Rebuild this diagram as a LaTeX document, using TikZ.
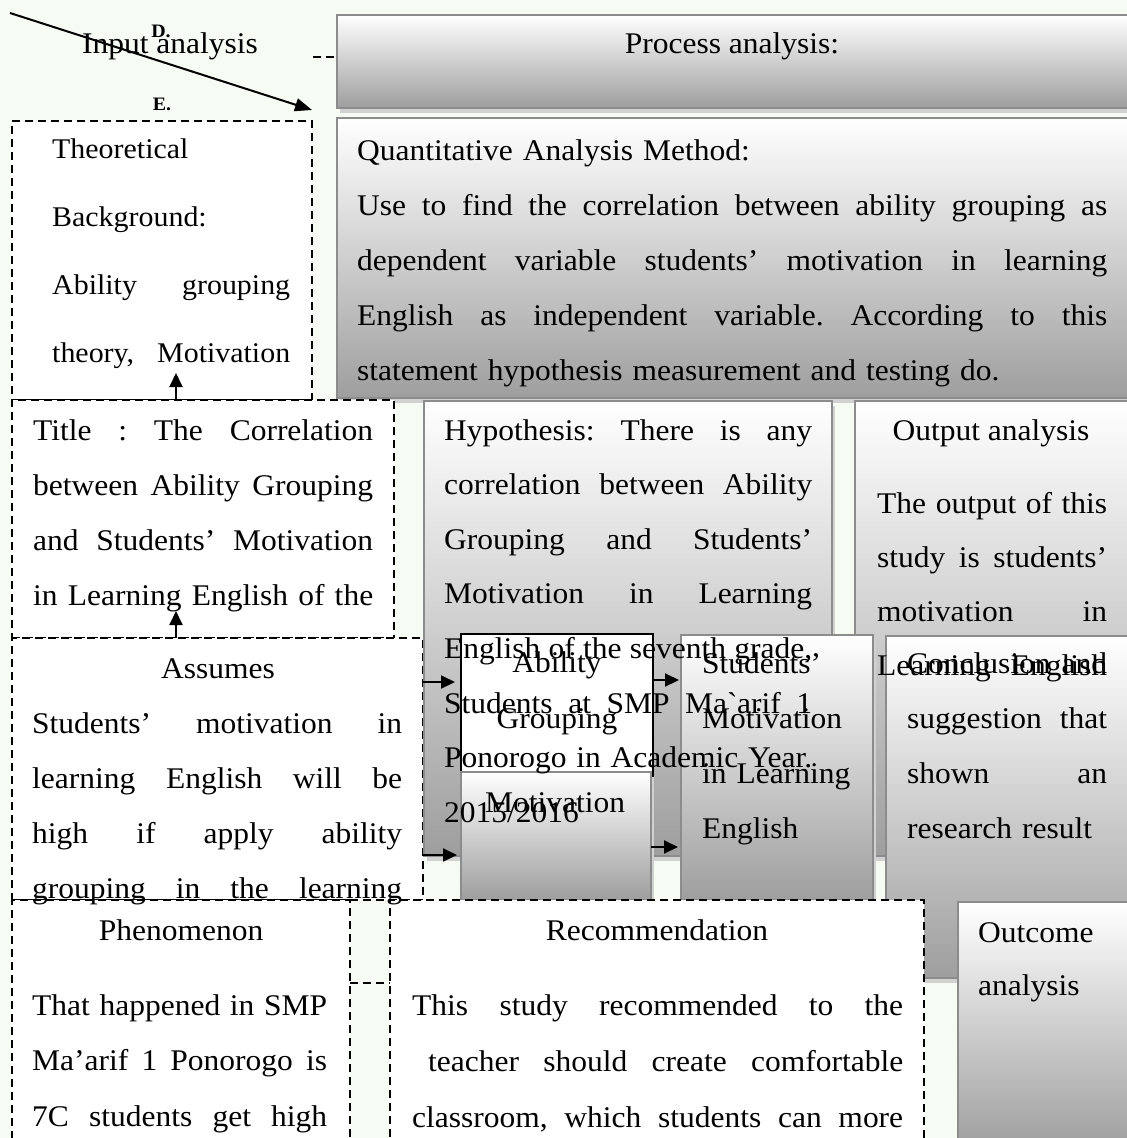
\documentclass[tikz,border=0pt]{standalone}
\usepackage{fontspec}
\setmainfont{Liberation Serif}[FakeStretch=1.05]
\usetikzlibrary{arrows.meta,shadows}

\definecolor{paper}{RGB}{246,251,243}
\newcommand{\jline}[1]{{\spaceskip=0pt\xspaceskip=0pt\makebox[\hsize][s]{#1}}}
\newcommand{\jlinein}[2]{{\spaceskip=0pt\xspaceskip=0pt\hspace*{#1}\makebox[\dimexpr\hsize-#1\relax][s]{#2}}}

\begin{document}
\frenchspacing
\begin{tikzpicture}[x=1pt, y=-1pt,
	dashbox/.style={draw, fill=white, line width=2pt, dash pattern=on 8pt off 5pt, inner sep=0pt, outer sep=0pt, anchor=north west},
	shadebox/.style={draw=black!45, line width=2.5pt, top color=white, bottom color=black!38, inner sep=0pt, outer sep=0pt, anchor=north west,
		drop shadow={shadow xshift=3pt, shadow yshift=-5pt, fill=black!18, opacity=1}},
	plainbox/.style={draw, fill=white, line width=1.5pt, inner sep=0pt, outer sep=0pt, anchor=north west},
	lines/.style={inner sep=0pt, anchor=base west, align=left, font=\fontsize{30pt}{#1}\selectfont},
	heading/.style={inner sep=0pt, anchor=base, font=\fontsize{30pt}{36pt}\selectfont},
	letter/.style={inner sep=0pt, font=\fontsize{19pt}{22pt}\selectfont\bfseries},
	arr/.style={line width=2pt, -{Triangle[length=14pt,width=13pt]}},
	dashline/.style={line width=2pt, dash pattern=on 8pt off 5pt}]
	\fill[paper] (0,0) rectangle (1127,1138);
	\useasboundingbox (0,0) rectangle (1127,1138);

	\node[shadebox, minimum width=803pt, minimum height=93pt] (proc) at (337,15) {};
	\node[shadebox, minimum width=803pt, minimum height=280pt] (quant) at (337,118) {};
	\node[dashbox, minimum width=300pt, minimum height=279pt] (theo) at (12,121) {};
	\node[dashbox, minimum width=382pt, minimum height=238pt] (title) at (12,400) {};
	\node[dashbox, minimum width=411pt, minimum height=262pt] (assumes) at (12,638) {};
	\node[shadebox, minimum width=408pt, minimum height=455pt] (hyp) at (424,401) {};
	\node[shadebox, minimum width=285pt, minimum height=455pt] (output) at (855,401) {};
	\node[plainbox, minimum width=192pt, minimum height=190pt] (ability) at (461,634) {};
	\node[shadebox, minimum width=190pt, minimum height=128pt] (motiv) at (461,772) {};
	\node[shadebox, minimum width=192pt, minimum height=265pt] (students) at (681,635) {};
	\node[shadebox, minimum width=254pt, minimum height=342pt] (concl) at (886,636) {};
	\node[dashbox, minimum width=338pt, minimum height=250pt] (phen) at (12,900) {};
	\node[dashbox, minimum width=534pt, minimum height=250pt] (recom) at (390,900) {};
	\node[shadebox, minimum width=182pt, minimum height=248pt] (outcome) at (958,902) {};

	\node[heading] (inputlbl) at (170,53) {Input analysis};
	\node[letter] (dlbl) at (161,31) {D.};
	\node[letter] (elbl) at (162,104) {E.};
	\node[heading] (proclbl) at (732,53) {Process analysis:};
	\node[lines=55pt, text width=750pt] (quanttxt) at (357,160) {Quantitative Analysis Method:\\
		\jline{Use to find the correlation between ability grouping as}\\
		\jline{dependent variable students’ motivation in learning}\\
		\jline{English as independent variable. According to this}\\
		statement hypothesis measurement and testing do.};
	\node[lines=68pt, text width=238pt, font=\fontsize{28.5pt}{68pt}\selectfont] (theotxt) at (52,158) {Theoretical\\
		Background:\\
		\jline{Ability grouping}\\
		\jline{theory, Motivation}};
	\node[lines=55pt, text width=340pt] (titletxt) at (33,440) {\jline{Title : The Correlation}\\
		\jline{between Ability Grouping}\\
		\jline{and Students’ Motivation}\\
		\jline{in Learning English of the}};
	\node[heading] (assumeslbl) at (218,678) {Assumes};
	\node[lines=55.3pt, text width=370pt] (assumestxt) at (32,733) {\jline{Students’ motivation in}\\
		\jline{learning English will be}\\
		\jline{high if apply ability}\\
		\jline{grouping in the learning}};
	\node[lines=54.6pt, text width=368pt] (hyptxt) at (444,440) {\jline{Hypothesis: There is any}\\
		\jline{correlation between Ability}\\
		\jline{Grouping and Students’}\\
		\jline{Motivation in Learning}\\
		\jline{English of the seventh grade,}\\
		\jline{Students at SMP Ma\textasciigrave arif 1}\\
		\jline{Ponorogo in Academic Year.}\\
		2015/2016};
	\node[heading] (outputlbl) at (991,440) {Output analysis};
	\node[lines=54pt, text width=230pt] (outputtxt) at (877,513) {\jline{The output of this}\\
		\jline{study is students’}\\
		\jline{motivation in}\\
		\jline{Learning English}};
	\node[heading, align=center, font=\fontsize{30pt}{56pt}\selectfont] (abilitytxt) at (557,728) {Ability\\Grouping};
	\node[heading] (motivtxt) at (555,812) {Motivation};
	\node[lines=55pt, text width=170pt] (studentstxt) at (702,673) {Students’\\
		Motivation\\
		in Learning\\
		English};
	\node[lines=55pt, text width=200pt] (concltxt) at (907,673) {\jline{Conclusion and}\\
		\jline{suggestion that}\\
		\jline{shown an}\\
		research result};
	\node[heading] (phenlbl) at (181,940) {Phenomenon};
	\node[lines=55.5pt, text width=295pt] (phentxt) at (32,1015) {\jline{That happened in SMP}\\
		\jline{Ma’arif 1 Ponorogo is}\\
		\jline{7C students get high}};
	\node[heading] (recomlbl) at (657,940) {Recommendation};
	\node[lines=56pt, text width=491pt] (recomtxt) at (412,1015) {\jline{This study recommended to the}\\
		\jlinein{16pt}{teacher should create comfortable}\\
		\jline{classroom, which students can more}};
	\node[lines=53pt, text width=140pt] (outcometxt) at (978,942) {Outcome\\
		analysis};

	\coordinate (dstart) at (10,13);
	\coordinate (dend) at (312,110);
	\coordinate (inlink) at (313,57);
	\coordinate (up1) at (176,373);
	\coordinate (up2) at (176,611);
	\coordinate (r1tip) at (455,682);
	\coordinate (r2tip) at (457,855);
	\coordinate (r3tip) at (679,680);
	\coordinate (r4tip) at (678,847);
	\coordinate (plink) at (350,983);

	\draw[arr, -{Triangle[length=17pt,width=13pt]}] (dstart) -- (dend);
	\draw[dashline] (inlink) -- (inlink -| proc.west);
	\draw[arr] (title.north -| up1) -- (up1);
	\draw[arr] (assumes.north -| up2) -- (up2);
	\draw[arr] (assumes.east |- r1tip) -- (r1tip);
	\draw[arr] (assumes.east |- r2tip) -- (r2tip);
	\draw[arr] (ability.east |- r3tip) -- (r3tip);
	\draw[arr] (motiv.east |- r4tip) -- (r4tip);
	\draw[dashline] (phen.east |- plink) -- (plink -| recom.west);
\end{tikzpicture}
\end{document}
